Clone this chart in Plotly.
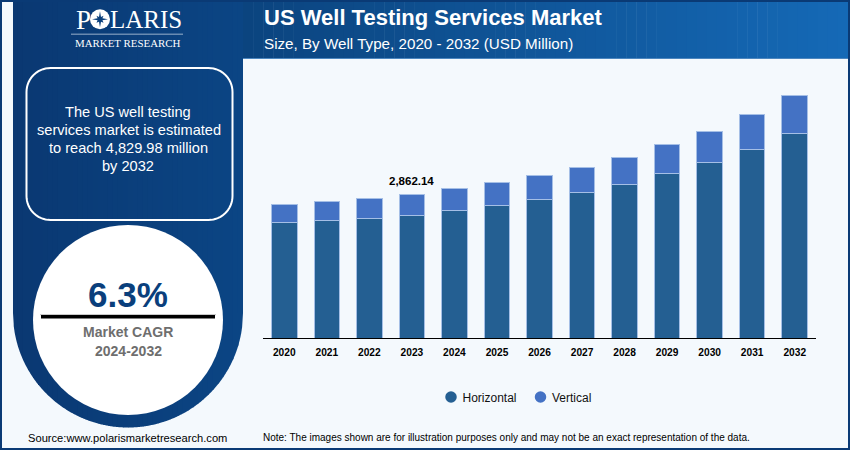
import math
import plotly.graph_objects as go

years = ["2020","2021","2022","2023","2024","2025","2026","2027","2028","2029","2030","2031","2032"]
horizontal = [2297,2337,2391,2450,2536,2635,2754,2893,3066,3271,3509,3767,4085]
vertical = [372,385,391,412,437,457,477,511,543,584,616,690,745]
callout_year = "2023"
callout_total = 2862.14
callout_text = "2,862.14"
series_names = ["Horizontal", "Vertical"]

W, H = 850, 450
L, R, T, B = 263, 816, 80, 338
NAVY = "#0a3f7c"
BG = "#f4f9fd"
SANS = "Liberation Sans, Arial, sans-serif"
SERIF = "Liberation Serif, Times New Roman, serif"


def px(x):
    return (x - L) / (R - L)


def py(y):
    return (B - y) / (B - T)


def rect(x0, y0, x1, y1, color, **kw):
    return dict(type="rect", xref="paper", yref="paper", x0=px(x0), x1=px(x1), y0=py(y0), y1=py(y1),
                fillcolor=color, line=dict(width=0), layer="below", **kw)


def circle(cx, cy, r, color):
    return dict(type="circle", xref="paper", yref="paper", x0=px(cx - r), x1=px(cx + r), y0=py(cy - r), y1=py(cy + r),
                fillcolor=color, line=dict(width=0), layer="below")


def path(points, color, close=True, line=None):
    d = "M " + " L ".join(f"{px(a):.5f},{py(b):.5f}" for a, b in points) + (" Z" if close else "")
    return dict(type="path", xref="paper", yref="paper", path=d, fillcolor=color,
                line=line or dict(width=0), layer="below")


def lerp_hex(c1, c2, t):
    a = [int(c1[i:i + 2], 16) for i in (1, 3, 5)]
    b = [int(c2[i:i + 2], 16) for i in (1, 3, 5)]
    return "#" + "".join(f"{round(p + (q - p) * t):02x}" for p, q in zip(a, b))


shapes = [rect(0, 0, W, H, BG)]

# header gradient
steps = 60
for i in range(steps):
    x0 = 243 + (848 - 243) * i / steps
    x1 = 243 + (848 - 243) * (i + 1) / steps + 0.5
    shapes.append(rect(x0, 2, x1, 58, lerp_hex("#0b447f", "#1569b6", i / (steps - 1))))
shapes.append(rect(243, 58, 848, 59, "#4c86bf"))


# left U panel, in vertical slices for its gradient
def u_bottom(x):
    dx = max(-1.0, min(1.0, (x - 128) / 115))
    return 313 + 114.5 * math.sqrt(1 - dx * dx)


n = 46
for i in range(n):
    x0 = 13 + 230 * i / n
    x1 = 13 + 230 * (i + 1) / n
    xs = [x0 + (x1 - x0) * k / 6 for k in range(7)]
    poly = [(x0, 0), (min(x1 + 0.4, 243), 0), (min(x1 + 0.4, 243), u_bottom(min(x1 + 0.4, 243)))]
    poly += [(x, u_bottom(x)) for x in reversed(xs)]
    shapes.append(path(poly, lerp_hex("#0a3872", "#0b4584", i / (n - 1))))

# frame
shapes += [rect(0, 0, W, 2, "#0a3a75"), rect(0, 448, W, H, "#0a3a75"),
           rect(0, 0, 2, H, "#0a3a75"), rect(848, 0, W, H, "#0a3a75")]

# rounded box
bx0, by0, bx1, by1, rr = 26.5, 68, 232.5, 220, 24
pts = []
for cx, cy, s in [(bx1 - rr, by0 + rr, -90), (bx1 - rr, by1 - rr, 0), (bx0 + rr, by1 - rr, 90), (bx0 + rr, by0 + rr, 180)]:
    for i in range(0, 16):
        a = math.radians(s + 6 * i)
        pts.append((cx + rr * math.cos(a), cy + rr * math.sin(a)))
shapes.append(path(pts, "rgba(0,0,0,0)", line=dict(color="white", width=2)))

# white circle and rule
shapes.append(circle(128, 320, 95, "white"))
shapes.append(rect(40, 314, 216, 315.2, "#c9c9c9"))
shapes.append(dict(type="line", xref="paper", yref="paper", x0=px(41), x1=px(215), y0=py(316.7), y1=py(316.7),
                   line=dict(color="black", width=3.5), layer="below"))

# logo
shapes.append(circle(100, 19.3, 10, "white"))
star = []
for i in range(16):
    a = math.pi * i / 8
    r = 8 if i % 4 == 0 else (5 if i % 2 == 0 else 2.6)
    star.append((100 + r * math.sin(a), 19.3 - r * math.cos(a)))
shapes.append(path(star, NAVY))
shapes.append(rect(71, 33.7, 183, 34.4, "#c8d6e6"))


def text(x, y, s, size, color, family=SANS, anchor="left", bold=False):
    return dict(xref="paper", yref="paper", x=px(x), y=py(y), text=f"<b>{s}</b>" if bold else s,
                showarrow=False, xanchor=anchor, yanchor="middle", align="center",
                font=dict(size=size, color=color, family=family))


annotations = [
    text(74, 19.5, "P", 27, "white", SERIF),
    text(108, 19.5, "LARIS", 25, "white", SERIF),
    text(128, 43.5, "MARKET RESEARCH", 10.9, "white", SERIF, "center"),
    text(128, 112, "The US well testing", 14.6, "white", anchor="center"),
    text(129, 130, "services market is estimated", 14.6, "white", anchor="center"),
    text(128, 148, "to reach 4,829.98 million", 14.6, "white", anchor="center"),
    text(128, 166, "by 2032", 14.6, "white", anchor="center"),
    text(128, 294, "6.3%", 35, "#0a3f7c", anchor="center", bold=True),
    text(128, 332, "Market CAGR", 14, "#6e6e6e", anchor="center", bold=True),
    text(128, 351, "2024-2032", 14, "#6e6e6e", anchor="center", bold=True),
    text(262, 17, "US Well Testing Services Market", 22, "white", bold=True),
    text(262, 44, "Size, By Well Type, 2020 - 2032 (USD Million)", 15.2, "white"),
    text(26, 437.5, "Source:www.polarismarketresearch.com", 11.15, "black"),
    text(261, 437.5, "Note: The images shown are for illustration purposes only and may not be an exact representation of the data.", 10, "black"),
    dict(xref="x", yref="y", x=years.index(callout_year), y=callout_total, text=f"<b>{callout_text}</b>",
         showarrow=False, xanchor="center", yanchor="bottom", yshift=5,
         font=dict(size=11.5, color="black", family=SANS)),
]

edge = dict(color="#a5bfe6", width=1)
colors = ["#245f92", "#4472c4"]
fig = go.Figure()
fig.add_bar(x=years, y=horizontal, name=series_names[0], marker=dict(color=colors[0], line=edge), showlegend=False)
fig.add_bar(x=years, y=vertical, name=series_names[1], marker=dict(color=colors[1], line=edge), showlegend=False)
for name, col in zip(series_names, colors):
    fig.add_scatter(x=[None], y=[None], mode="markers", name=name, marker=dict(color=col, size=11.5, symbol="circle"))

fig.update_layout(
    width=W, height=H, autosize=False,
    margin=dict(l=L, r=W - R, t=T, b=H - B, pad=0),
    barmode="stack", bargap=0.4,
    paper_bgcolor=BG, plot_bgcolor=BG,
    font=dict(family=SANS),
    xaxis=dict(type="category", categoryorder="array", categoryarray=years, range=[-0.5, 12.5], showgrid=False,
               showline=True, linecolor="black", linewidth=1, ticks="", ticklen=0, ticklabelstandoff=5,
               tickfont=dict(size=10.2, color="black", family=SANS), tickprefix="<b>", ticksuffix="</b>",
               fixedrange=True),
    yaxis=dict(range=[0, 5145], visible=False, fixedrange=True),
    legend=dict(orientation="h", x=px(431), y=py(397), xanchor="left", yanchor="middle", traceorder="normal",
                entrywidth=44.5, entrywidthmode="pixels",
                font=dict(size=12, color="#111111", family=SANS), bgcolor="rgba(0,0,0,0)",
                itemclick=False, itemdoubleclick=False),
    shapes=shapes, annotations=annotations, showlegend=True,
)
post = """document.body.style.margin='0';
document.querySelectorAll('.legendtext').forEach(function(t){
  t.setAttribute('x', parseFloat(t.getAttribute('x')) - 8.5);
});"""
fig.write_html("out.html", config=dict(displayModeBar=False), post_script=post)
